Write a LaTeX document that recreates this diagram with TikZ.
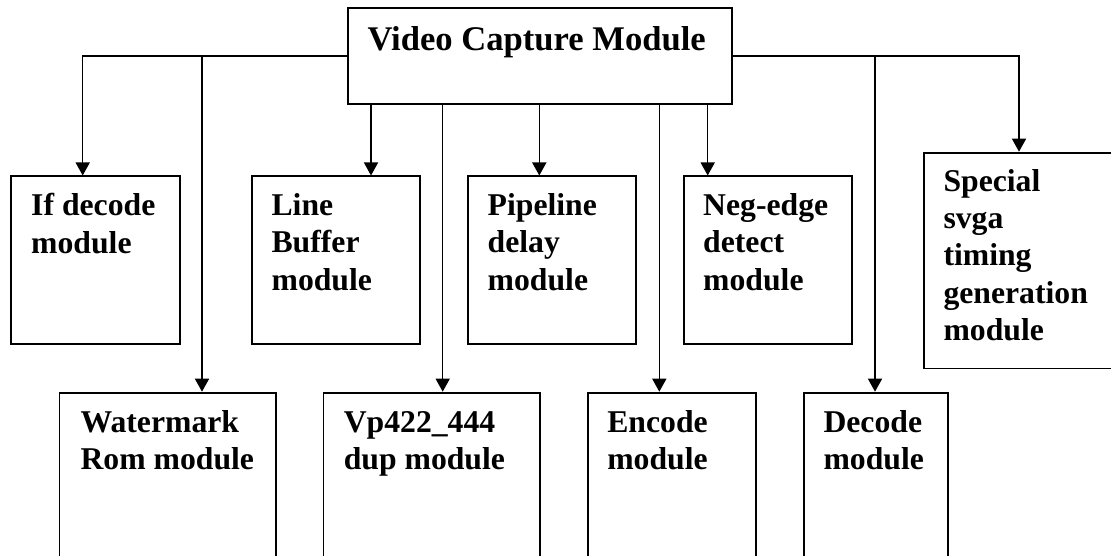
\documentclass[tikz,border=0pt]{standalone}
\usepackage{fontspec}
\setmainfont{Liberation Serif}
\usetikzlibrary{arrows.meta}
\tikzset{
  box/.style={draw, line width=1.9pt, rectangle, anchor=north west, inner sep=0pt},
  txt/.style={anchor=base west, inner sep=0pt, align=left,
    font=\fontsize{31.7pt}{37.3pt}\selectfont\bfseries},
  ttl/.style={anchor=base west, inner sep=0pt,
    font=\fontsize{34.6pt}{40pt}\selectfont\bfseries},
  conn/.style={line width=1.5pt},
  arr/.style={conn, -{Triangle[width=14pt,length=13pt]}}
}
\begin{document}
\begin{tikzpicture}[x=1pt,y=-1pt]
\clip (0,0) rectangle (1111,556);
\useasboundingbox (0,0) rectangle (1111,556);
% boxes
\node[box, minimum width=384.3pt, minimum height=95.4pt] (vcm) at (346.7,7.3) {};
\node[box, minimum width=169pt, minimum height=167.8pt] (ifd) at (10,175.5) {};
\node[box, minimum width=167.9pt, minimum height=167.8pt] (lb) at (250.7,175.5) {};
\node[box, minimum width=168pt, minimum height=167.8pt] (pipe) at (466.8,175.5) {};
\node[box, minimum width=168pt, minimum height=167.8pt] (neg) at (683,175.5) {};
\node[box, minimum width=200pt, minimum height=215.8pt] (spec) at (922.7,151.7) {};
\node[box, minimum width=216.5pt, minimum height=180pt] (wm) at (58.5,391.7) {};
\node[box, minimum width=216.1pt, minimum height=180pt] (vp) at (322.5,391.7) {};
\node[box, minimum width=168.1pt, minimum height=180pt] (enc) at (586.9,391.7) {};
\node[box, minimum width=144.6pt, minimum height=180pt] (dec) at (802.7,391.7) {};
% texts (base anchor = baseline of the last line)
\node[ttl] (vcmt) at (367.3,51) {Video Capture Module};
\node[txt] (ifdt) at (31,253) {If decode\\module};
\node[txt] (lbt) at (271.4,290.2) {Line\\Buffer\\module};
\node[txt] (pipet) at (487.5,290.2) {Pipeline\\delay\\module};
\node[txt] (negt) at (703,290.2) {Neg-edge\\detect\\module};
\node[txt] (spect) at (943.3,340.5) {Special\\svga\\timing\\generation\\module};
\node[txt] (wmt) at (80.4,469.5) {Watermark\\Rom module};
\node[txt] (vpt) at (343.6,469.5) {Vp422\_444\\dup module};
\node[txt] (enct) at (607.1,469.5) {Encode\\module};
\node[txt] (dect) at (823.3,469.5) {Decode\\module};
% junction x positions
\coordinate (xifd) at (82.7,0);
\coordinate (xwm) at (202,0);
\coordinate (xlb) at (371,0);
\coordinate (xvp) at (442.7,0);
\coordinate (xpipe) at (539.3,0);
\coordinate (xenc) at (659.3,0);
\coordinate (xneg) at (707.7,0);
\coordinate (xdec) at (875,0);
\coordinate (xspec) at (1019,0);
% connectors
\draw[arr] (vcm.west) -| (ifd.north -| xifd);
\draw[arr] (vcm.west -| xwm) -- (wm.north -| xwm);
\draw[arr] (vcm.east) -| (spec.north -| xspec);
\draw[arr] (vcm.east -| xdec) -- (dec.north -| xdec);
\draw[arr] (vcm.south -| xlb) -- (lb.north -| xlb);
\draw[arr] (vcm.south -| xvp) -- (vp.north -| xvp);
\draw[arr] (vcm.south -| xpipe) -- (pipe.north -| xpipe);
\draw[arr] (vcm.south -| xenc) -- (enc.north -| xenc);
\draw[arr] (vcm.south -| xneg) -- (neg.north -| xneg);
\end{tikzpicture}
\end{document}
